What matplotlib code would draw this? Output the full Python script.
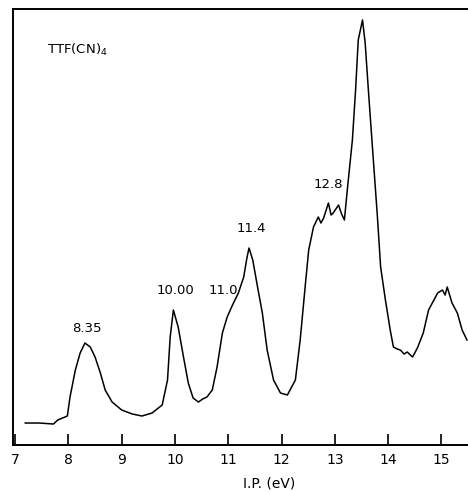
import matplotlib.pyplot as plt

# Photoelectron spectrum of TTF(CN)4 (arbitrary intensity)
ip_ev = [7.19, 7.45, 7.72, 7.80, 7.98, 8.03, 8.13, 8.22, 8.31, 8.36, 8.41, 8.50,
         8.60, 8.69, 8.82, 9.00, 9.20, 9.38, 9.57, 9.76, 9.86, 9.91, 9.97,
         10.06, 10.16, 10.25, 10.34, 10.44, 10.52, 10.60, 10.70, 10.79, 10.89,
         10.98, 11.08, 11.19, 11.29, 11.35, 11.39, 11.46, 11.55, 11.64, 11.73,
         11.85, 11.98, 12.11, 12.26, 12.35, 12.45, 12.51, 12.60, 12.69, 12.74,
         12.79, 12.88, 12.93, 12.97, 13.07, 13.12, 13.18, 13.24, 13.33, 13.39,
         13.44, 13.52, 13.57, 13.63, 13.71, 13.80, 13.86, 13.95, 14.04, 14.10,
         14.17, 14.23, 14.30, 14.36, 14.46, 14.55, 14.66, 14.76, 14.93, 15.02,
         15.07, 15.11, 15.20, 15.30, 15.39, 15.48]
intensity = [22, 22, 21, 25, 29, 48, 75, 92, 102, 100, 98, 88,
             72, 55, 43, 35, 31, 29, 32, 40, 65, 108, 135,
             118, 88, 62, 47, 43, 46, 48, 55, 78, 112,
             128, 140, 152, 168, 187, 197, 185, 158, 132, 95,
             65, 52, 50, 65, 105, 162, 195, 218, 228, 222,
             227, 242, 230, 232, 240, 232, 225, 258, 305, 355,
             405, 425, 402, 355, 295, 228, 178, 145, 115, 98,
             96, 95, 91, 93, 88, 97, 112, 135, 152, 155,
             150, 158, 142, 132, 115, 105]

peak_labels = ["8.35", "10.00", "11.0", "11.4", "12.8"]
peak_x = [8.35, 10.00, 10.90, 11.43, 12.88]
peak_y = [117, 155, 155, 217, 261]

fig = plt.figure(figsize=(4.68, 4.92), dpi=100)
ax = fig.add_axes([0.0278, 0.0955, 0.9722, 0.8862])

ax.plot(ip_ev, intensity, color="black", lw=1.1)

for lbl, x, y in zip(peak_labels, peak_x, peak_y):
    ax.text(x, y, lbl, ha="center", va="center", fontsize=9.5)

ax.text(0.075, 0.905, "TTF(CN)$_4$", transform=ax.transAxes,
        ha="left", va="center", fontsize=9.5)

ax.set_xlim(6.96, 15.5)
ax.set_ylim(0, 436)
ax.set_xticks(range(7, 16))
ax.set_yticks([])
ax.tick_params(axis="x", direction="in", length=8, width=1.2,
               labelsize=10, pad=6)
ax.spines["right"].set_visible(False)
for s in ["left", "bottom", "top"]:
    ax.spines[s].set_linewidth(1.4)

# axis title sits right at the bottom edge, slightly right of centre
fig.text(0.575, 0.004, "I.P. (eV)", ha="center", va="bottom", fontsize=10)

fig.savefig("out.png", dpi=100)
